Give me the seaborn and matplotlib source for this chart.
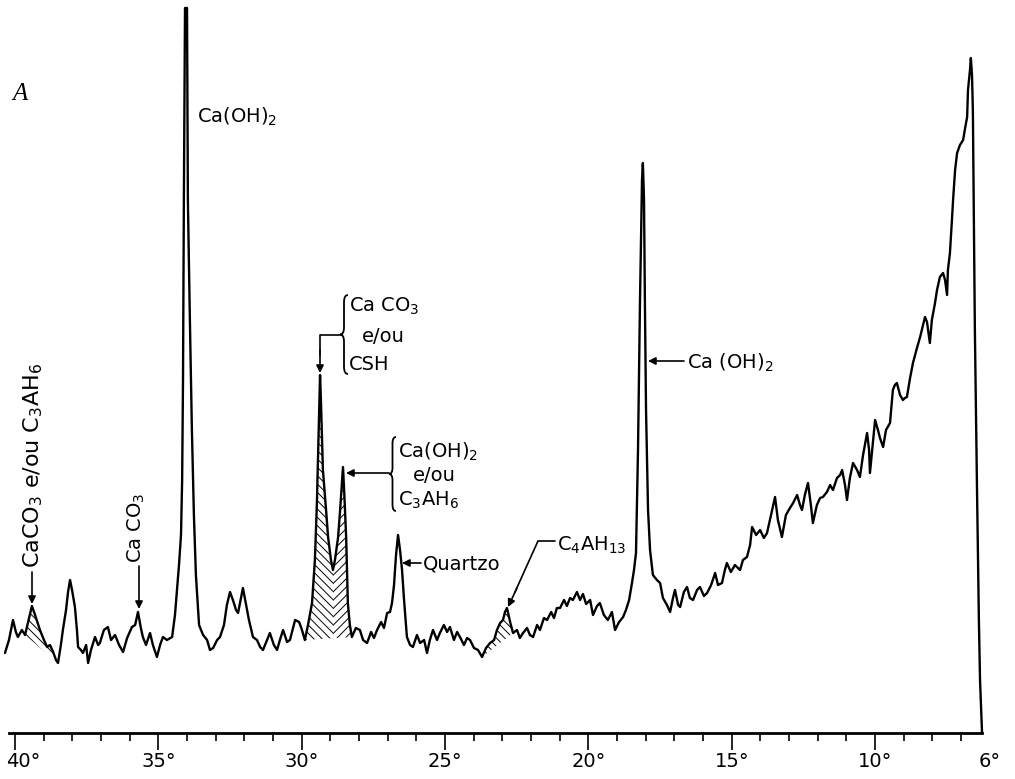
import numpy as np
import pandas as pd
import matplotlib
matplotlib.use("Agg")
import matplotlib.pyplot as plt
import matplotlib.transforms as mtransforms
from matplotlib.path import Path
from matplotlib.patches import PathPatch, FancyArrowPatch
from matplotlib.lines import Line2D
import seaborn as sns

# ---------------- data ----------------
two_theta = [
    40.35, 40.21, 40.07, 39.97, 39.90, 39.76, 39.65, 39.51, 39.41, 39.30,
    39.13, 38.99, 38.88, 38.78, 38.67, 38.57, 38.50, 38.40, 38.33, 38.22,
    38.15, 38.08, 38.01, 37.91, 37.84, 37.80, 37.70, 37.63, 37.52, 37.45,
    37.35, 37.21, 37.10, 37.04, 36.90, 36.76, 36.65, 36.51, 36.37, 36.23,
    36.09, 35.92, 35.81, 35.71, 35.61, 35.54, 35.43, 35.29, 35.19, 35.05,
    34.94, 34.84, 34.70, 34.52, 34.42, 34.35, 34.28, 34.21, 34.17, 34.14,
    34.11, 34.07, 34.00, 33.97, 33.90, 33.83, 33.76, 33.69, 33.58, 33.44,
    33.30, 33.20, 33.09, 32.95, 32.85, 32.71, 32.61, 32.50, 32.40, 32.29,
    32.22, 32.12, 32.05, 31.94, 31.84, 31.70, 31.56, 31.45, 31.35, 31.21,
    31.11, 30.97, 30.86, 30.76, 30.65, 30.51, 30.41, 30.30, 30.23, 30.09,
    29.99, 29.89, 29.78, 29.64, 29.54, 29.47, 29.40, 29.36, 29.33, 29.26,
    29.15, 29.08, 28.98, 28.91, 28.84, 28.73, 28.66, 28.59, 28.56, 28.52,
    28.45, 28.39, 28.32, 28.25, 28.11, 27.97, 27.86, 27.72, 27.58, 27.48,
    27.37, 27.23, 27.13, 27.02, 26.92, 26.85, 26.78, 26.71, 26.64, 26.57,
    26.50, 26.43, 26.36, 26.33, 26.22, 26.12, 25.98, 25.87, 25.73, 25.63,
    25.53, 25.42, 25.28, 25.18, 25.04, 24.93, 24.83, 24.69, 24.58, 24.48,
    24.34, 24.23, 24.13, 23.99, 23.85, 23.71, 23.57, 23.43, 23.29, 23.19,
    23.08, 22.98, 22.91, 22.84, 22.73, 22.63, 22.49, 22.39, 22.28, 22.14,
    22.04, 21.93, 21.79, 21.69, 21.55, 21.44, 21.30, 21.20, 21.10, 20.99,
    20.85, 20.75, 20.64, 20.54, 20.40, 20.29, 20.19, 20.08, 19.94, 19.84,
    19.70, 19.60, 19.46, 19.32, 19.18, 19.07, 18.93, 18.79, 18.69, 18.58,
    18.48, 18.41, 18.34, 18.27, 18.20, 18.13, 18.10, 18.06, 18.03, 17.99,
    17.92, 17.85, 17.75, 17.61, 17.50, 17.40, 17.26, 17.15, 17.05, 16.98,
    16.87, 16.80, 16.67, 16.56, 16.46, 16.35, 16.21, 16.11, 15.97, 15.86,
    15.72, 15.58, 15.48, 15.34, 15.24, 15.17, 15.03, 14.89, 14.71, 14.61,
    14.47, 14.36, 14.29, 14.15, 14.01, 13.88, 13.77, 13.63, 13.49, 13.39,
    13.25, 13.11, 12.97, 12.86, 12.72, 12.62, 12.55, 12.45, 12.34, 12.24,
    12.17, 12.03, 11.92, 11.82, 11.68, 11.57, 11.47, 11.33, 11.22, 11.15,
    11.05, 10.98, 10.88, 10.77, 10.63, 10.53, 10.42, 10.28, 10.21, 10.18,
    10.07, 10.00, 9.90, 9.83, 9.72, 9.62, 9.48, 9.38, 9.31, 9.24,
    9.13, 9.03, 8.96, 8.89, 8.78, 8.68, 8.54, 8.43, 8.33, 8.26,
    8.19, 8.09, 8.02, 7.91, 7.84, 7.74, 7.63, 7.56, 7.49, 7.46,
    7.39, 7.35, 7.32, 7.28, 7.21, 7.14, 7.04, 6.93, 6.86, 6.79,
    6.76, 6.69, 6.66, 6.62, 6.59, 6.55, 6.52, 6.48, 6.45, 6.41,
    6.38, 6.34, 6.27,
]
intensity = [
    80, 93, 113, 101, 96, 103, 98, 115, 127, 118,
    103, 93, 86, 88, 81, 73, 70, 88, 103, 123,
    141, 153, 143, 126, 103, 86, 83, 80, 88, 70,
    83, 96, 88, 90, 103, 106, 93, 98, 88, 81,
    95, 106, 108, 121, 105, 96, 88, 100, 88, 76,
    88, 96, 93, 96, 118, 143, 168, 198, 253, 353,
    533, 725, 725, 533, 413, 303, 218, 158, 108, 98,
    93, 83, 85, 93, 96, 108, 128, 141, 133, 123,
    120, 135, 145, 128, 113, 96, 93, 86, 83, 93,
    100, 88, 83, 93, 103, 91, 93, 105, 113, 111,
    103, 93, 108, 130, 173, 230, 313, 358, 333, 263,
    223, 196, 173, 163, 173, 196, 223, 253, 266, 243,
    196, 130, 108, 96, 105, 103, 93, 90, 101, 95,
    103, 111, 105, 120, 121, 130, 148, 178, 198, 183,
    163, 133, 108, 96, 88, 86, 98, 90, 93, 80,
    93, 103, 93, 100, 108, 101, 106, 93, 101, 96,
    88, 95, 93, 85, 83, 76, 85, 90, 93, 103,
    110, 113, 121, 125, 111, 100, 103, 95, 100, 105,
    98, 96, 108, 103, 115, 113, 121, 115, 125, 125,
    133, 127, 135, 133, 141, 133, 139, 129, 133, 118,
    127, 130, 118, 113, 121, 103, 111, 116, 123, 133,
    150, 163, 180, 283, 433, 553, 570, 533, 433, 323,
    223, 183, 158, 153, 150, 135, 128, 121, 135, 143,
    128, 126, 141, 146, 135, 133, 143, 146, 137, 140,
    148, 160, 148, 150, 163, 170, 161, 168, 163, 173,
    176, 188, 206, 198, 203, 195, 200, 218, 236, 213,
    196, 218, 225, 230, 238, 228, 223, 238, 250, 228,
    210, 228, 235, 236, 241, 248, 243, 255, 258, 263,
    248, 233, 255, 270, 263, 256, 278, 300, 283, 260,
    293, 313, 303, 295, 286, 303, 310, 343, 348, 350,
    338, 333, 335, 336, 355, 370, 385, 396, 408, 416,
    411, 390, 413, 430, 443, 456, 460, 453, 438, 463,
    480, 498, 513, 533, 563, 580, 588, 593, 605, 616,
    643, 663, 675, 658, 623, 503, 403, 313, 253, 173,
    113, 53, 0,
]

major_ticks = [40, 35, 30, 25, 20, 15, 10, 6]
major_labels = ["40°", "35°", "30°", "25°", "20°", "15°", "10°", "6°"]
minor_ticks = [t for t in range(7, 40) if t % 5 != 0]

# hatched peak areas: (baseline start, baseline end, [(from, to, hatch), ...])
hatch_areas = [
    (39.65, 38.50, [(39.65, 38.50, "\\\\\\\\")]),
    (29.89, 28.25, [(29.89, 28.91, "\\\\\\\\"), (28.91, 28.25, "////")]),
    (23.71, 22.63, [(23.71, 22.63, "\\\\\\\\")]),
]

# ---------------- figure ----------------
W, H = 1015, 779
sns.set_theme(style="white")
plt.rcParams["font.family"] = ["DejaVu Sans"]
plt.rcParams["mathtext.fontset"] = "dejavusans"
plt.rcParams["hatch.linewidth"] = 0.7
plt.rcParams["hatch.color"] = "black"

fig = plt.figure(figsize=(W / 100, H / 100), dpi=100, facecolor="white")
ax = fig.add_axes([0, 46 / H, 1, 733 / H])

df = pd.DataFrame({"two_theta": two_theta, "intensity": intensity})
sns.lineplot(data=df, x="two_theta", y="intensity", sort=False, estimator=None,
             color="black", linewidth=1.7, ax=ax)

tt = np.array(two_theta)
ii = np.array(intensity, dtype=float)
for b0, b1, parts in hatch_areas:
    i0 = np.argmin(np.abs(tt - b0))
    i1 = np.argmin(np.abs(tt - b1))
    xs = tt[i0:i1 + 1]
    ys = ii[i0:i1 + 1]
    base = ii[i0] + (ii[i1] - ii[i0]) * (xs - tt[i0]) / (tt[i1] - tt[i0])
    for p0, p1, hatch in parts:
        m = (xs <= p0 + 1e-6) & (xs >= p1 - 1e-6)
        ax.fill_between(xs, base, ys, where=m, facecolor="none", edgecolor="black",
                        hatch=hatch, linewidth=0, interpolate=True)

ax.set_xlim(40 + 15 / 28.67, 40 - 1000 / 28.67)
ax.set_ylim(0, 733)
ax.set_xlabel("")
ax.set_ylabel("")
ax.set_yticks([])
for s in ["left", "right", "top"]:
    ax.spines[s].set_visible(False)
ax.spines["bottom"].set_color("black")
ax.spines["bottom"].set_linewidth(2.0)
ax.spines["bottom"].set_bounds(6.27, 40.2)

ax.set_xticks(major_ticks, major_labels)
ax.set_xticks(minor_ticks, minor=True)
ax.tick_params(axis="x", which="major", bottom=True, direction="out", length=12,
               width=1.2, color="black", pad=2, labelsize=14, labelcolor="black")
ax.tick_params(axis="x", which="minor", bottom=True, direction="out", length=6,
               width=1.2, color="black")
for t in ax.xaxis.get_major_ticks():
    loc = t.get_loc()
    if abs(loc - 6) < 1e-9:
        t.tick1line.set_visible(False)
    if abs(loc - 40) < 1e-9:
        t.label1.set_transform(t.label1.get_transform() +
                               mtransforms.ScaledTranslation(0.08, 0, fig.dpi_scale_trans))

# ---------------- annotations (pixel coordinates of the page) ----------------
px = mtransforms.Affine2D().scale(1 / W, -1 / H).translate(0, 1) + fig.transFigure


def label(x, y, s, size=14, **kw):
    kw.setdefault("va", "baseline")
    kw.setdefault("ha", "left")
    fig.text(x, y, s, transform=px, fontsize=size, color="black", **kw)


def arrow(p0, p1):
    fig.add_artist(FancyArrowPatch(p0, p1, transform=px, arrowstyle="-|>",
                                   mutation_scale=11, lw=1.2, color="black",
                                   shrinkA=0, shrinkB=0))


def polyline(pts):
    xs, ys = zip(*pts)
    fig.add_artist(Line2D(xs, ys, transform=px, color="black", lw=1.2))


def brace(x, y0, y1, w):
    ym = (y0 + y1) / 2
    r = w * 0.9
    verts = [(x + w, y0), (x + w / 2, y0), (x + w / 2, y0 + r),
             (x + w / 2, ym - r), (x + w / 2, ym), (x, ym),
             (x + w / 2, ym), (x + w / 2, ym + r),
             (x + w / 2, y1 - r), (x + w / 2, y1), (x + w, y1)]
    codes = [Path.MOVETO, Path.CURVE3, Path.CURVE3,
             Path.LINETO, Path.CURVE3, Path.CURVE3,
             Path.CURVE3, Path.CURVE3,
             Path.LINETO, Path.CURVE3, Path.CURVE3]
    fig.add_artist(PathPatch(Path(verts, codes), transform=px, fill=False,
                             lw=1.3, edgecolor="black"))


fig.text(12, 100, "A", transform=px, fontsize=18, family=["Liberation Serif"],
         style="italic", color="black", va="baseline")

label(197, 123, r"Ca(OH)$_2$", 14)
label(687, 369, r"Ca (OH)$_2$", 14)

fig.text(33, 568, r"CaCO$_3$ e/ou C$_3$AH$_6$", transform=px, fontsize=16,
         rotation=90, ha="center", va="bottom", color="black")
arrow((32, 572), (32, 604))

fig.text(136, 563, r"Ca CO$_3$", transform=px, fontsize=14,
         rotation=90, ha="center", va="bottom", color="black")
arrow((139, 566), (139, 609))

brace(340, 295, 374, 8)
label(349, 312, r"Ca CO$_3$")
label(362, 342, "e/ou")
label(349, 370, "CSH")
polyline([(340, 335), (320, 335), (320, 355)])
arrow((320, 350), (320, 373))

brace(389, 437, 511, 7)
label(398, 458, r"Ca(OH)$_2$")
label(413, 481, "e/ou")
label(398, 506, r"C$_3$AH$_6$")
arrow((389, 473), (346, 473))

label(423, 570, "Quartzo")
arrow((421, 563), (402, 563))

label(557, 551, r"C$_4$AH$_{13}$")
polyline([(555, 541), (538, 541), (515, 592)])
arrow((517, 588), (508, 607))

arrow((684, 361), (648, 361))

fig.savefig("out.png", dpi=100, facecolor="white")
